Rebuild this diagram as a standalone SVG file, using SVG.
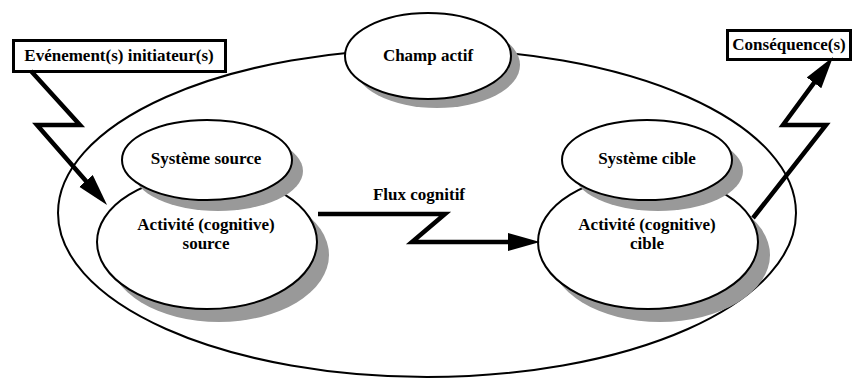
<svg xmlns="http://www.w3.org/2000/svg" width="856" height="378" viewBox="0 0 856 378">
<style>
.ell{fill:#fff;stroke:#000;stroke-width:2}
.sh{fill:#999;stroke:none}
.box{fill:#fff;stroke:#000;stroke-width:3}
text{font-family:'Liberation Serif','Times New Roman',Times,serif;font-weight:bold;font-size:17px;fill:#000;text-anchor:middle}
.bolt{fill:none;stroke:#000;stroke-width:4.5;stroke-linejoin:miter}
</style>
<defs>
<marker id="ah" markerUnits="userSpaceOnUse" markerWidth="34" markerHeight="20" refX="4" refY="9" orient="auto">
<path d="M0,0 L32,9 L0,18 z" fill="#000"/>
</marker>
</defs>
<g id="champ-global">
<ellipse class="ell" cx="427" cy="213" rx="369" ry="164"/>
</g>
<g id="champ-actif">
<ellipse class="sh" cx="437" cy="65" rx="83" ry="43"/>
<ellipse class="ell" cx="428" cy="56" rx="83" ry="43"/>
<text x="428" y="61">Champ actif</text>
</g>
<g id="activite-source">
<ellipse class="sh" cx="219" cy="255" rx="110" ry="67"/>
<ellipse class="ell" cx="207" cy="242" rx="110" ry="67"/>
<text x="206" y="230">Activité (cognitive)</text>
<text x="206" y="249">source</text>
</g>
<g id="systeme-source">
<ellipse class="sh" cx="218" cy="171" rx="85" ry="40"/>
<ellipse class="ell" cx="207" cy="160" rx="85" ry="40"/>
<text x="206" y="164">Système source</text>
</g>
<g id="activite-cible">
<ellipse class="sh" cx="660" cy="255" rx="110" ry="67"/>
<ellipse class="ell" cx="648" cy="242" rx="110" ry="67"/>
<text x="647" y="230">Activité (cognitive)</text>
<text x="647" y="249">cible</text>
</g>
<g id="systeme-cible">
<ellipse class="sh" cx="658" cy="171" rx="85" ry="40"/>
<ellipse class="ell" cx="647" cy="160" rx="85" ry="40"/>
<text x="647" y="164">Système cible</text>
</g>
<g id="evenement">
<rect class="box" x="13.5" y="40.5" width="212" height="31"/>
<text x="119" y="61">Evénement(s) initiateur(s)</text>
</g>
<g id="consequence">
<rect class="box" x="727.5" y="30.5" width="123" height="29"/>
<text x="789" y="50">Conséquence(s)</text>
</g>
<g id="connectors">
<polyline class="bolt" points="31,71 80,125 37,125 88.6,183.9" marker-end="url(#ah)"/>
<polyline class="bolt" points="318,214 445,214 412,242 512,242" marker-end="url(#ah)"/>
<polyline class="bolt" points="753,218 826,125 783,125 816.4,79.6" marker-end="url(#ah)"/>
<text x="419" y="200">Flux cognitif</text>
</g>
</svg>
